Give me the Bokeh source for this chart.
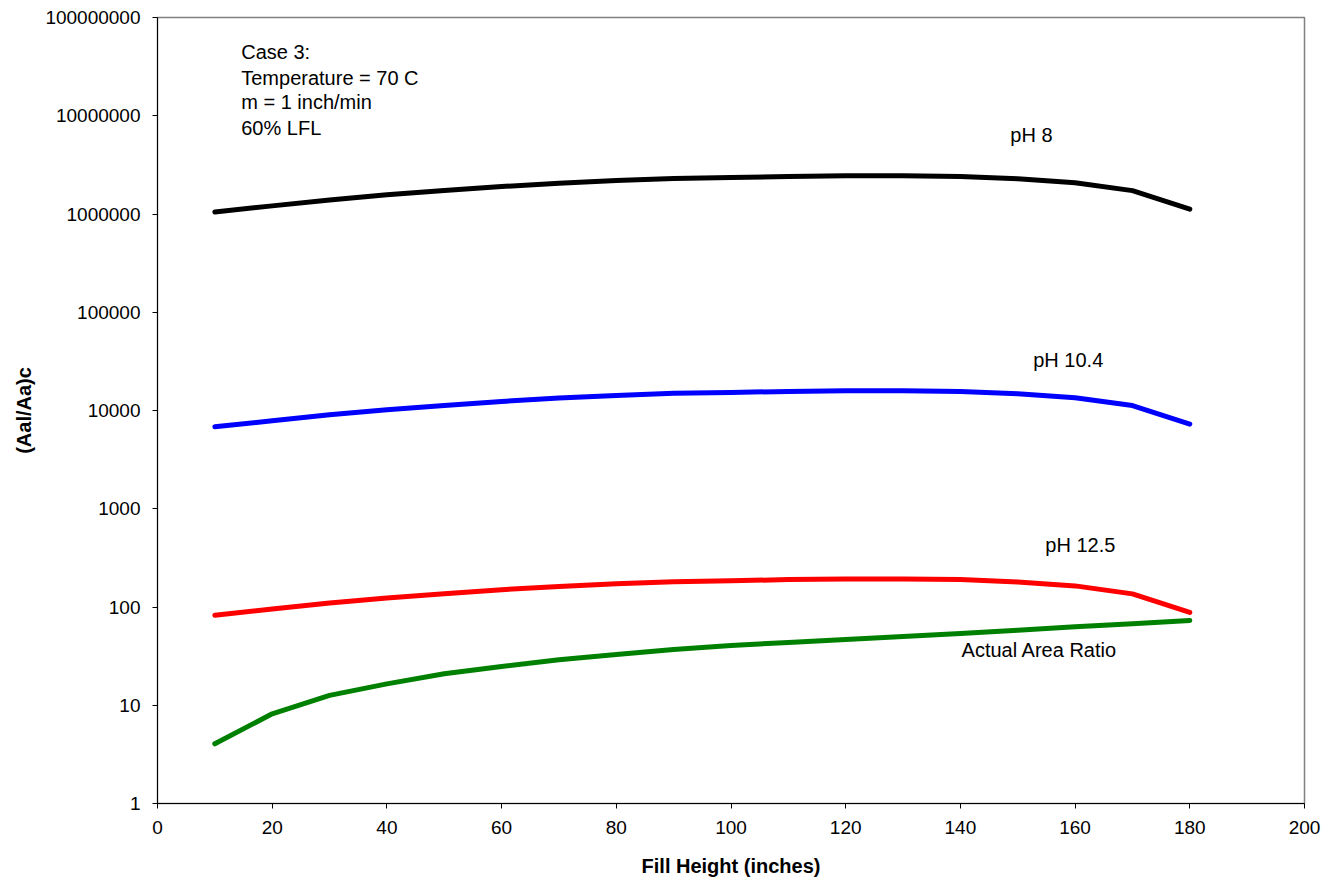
from bokeh.plotting import figure
from bokeh.models import Range1d, FixedTicker, PrintfTickFormatter, Label
from bokeh.embed import file_html
from bokeh.resources import INLINE

fill_height = [10, 20, 30, 40, 50, 60, 70, 80, 90, 100, 110, 120, 130, 140, 150, 160, 170, 180]
ph8 = [1.05e6, 1.21e6, 1.39e6, 1.57e6, 1.73e6, 1.90e6, 2.06e6, 2.19e6, 2.30e6, 2.35e6,
       2.41e6, 2.45e6, 2.45e6, 2.41e6, 2.28e6, 2.08e6, 1.73e6, 1.12e6]
ph104 = [6830, 7870, 9050, 10180, 11260, 12370, 13380, 14220, 14940, 15260,
         15650, 15910, 15910, 15650, 14800, 13510, 11230, 7270]
ph125 = [82.6, 95.4, 109.8, 123.5, 136.5, 150, 162, 172, 181, 185,
         190, 193, 193, 190, 179.5, 164, 136, 88]
actual_area_ratio = [4.05, 8.18, 12.6, 16.5, 20.9, 24.8, 29.0, 32.9, 36.9, 40.6,
                     43.5, 46.7, 50.1, 53.7, 58.0, 62.9, 67.5, 72.9]

x_ticks = [0, 20, 40, 60, 80, 100, 120, 140, 160, 180, 200]
y_ticks = [1, 10, 100, 1000, 10000, 100000, 1000000, 10000000, 100000000]

series_labels = ["pH 8", "pH 10.4", "pH 12.5", "Actual Area Ratio"]
note_lines = ["Case 3:", "Temperature = 70 C", "m = 1 inch/min", "60% LFL"]

FONT = "Liberation Sans"
FS = "19px"
FS_TXT = "20px"

p = figure(width=1326, height=879, y_axis_type="log",
           x_range=Range1d(0, 200), y_range=Range1d(1, 1e8),
           output_backend="svg", toolbar_location=None,
           min_border_left=157, min_border_right=22, min_border_top=17, min_border_bottom=76)

p.xgrid.visible = False
p.ygrid.visible = False
p.outline_line_color = "#808080"
p.outline_line_width = 1.5
p.background_fill_color = "white"
p.border_fill_color = "white"

for ax in (p.xaxis[0], p.yaxis[0]):
    ax.axis_line_color = "black"
    ax.axis_line_width = 1
    ax.major_tick_line_color = "black"
    ax.major_tick_in = 0
    ax.major_tick_out = 5
    ax.minor_tick_in = 0
    ax.minor_tick_out = 0
    ax.major_label_text_font = FONT
    ax.major_label_text_font_size = FS
    ax.major_label_text_color = "black"
    ax.axis_label_text_font = FONT
    ax.axis_label_text_font_size = FS_TXT
    ax.axis_label_text_font_style = "bold"
    ax.axis_label_text_color = "black"

p.xaxis.ticker = FixedTicker(ticks=x_ticks)
p.yaxis.ticker = FixedTicker(ticks=y_ticks, minor_ticks=[])
p.yaxis.formatter = PrintfTickFormatter(format="%d")
p.xaxis.major_label_standoff = 12
p.yaxis.major_label_standoff = 12
p.xaxis.axis_label = "Fill Height (inches)"
p.yaxis.axis_label = "(Aal/Aa)c"
p.xaxis.axis_label_standoff = 18
p.yaxis.axis_label_standoff = 7

lw = 5
p.line(fill_height, ph8, line_color="black", line_width=lw, line_cap="round", line_join="round")
p.line(fill_height, ph104, line_color="#0000FF", line_width=lw, line_cap="round", line_join="round")
p.line(fill_height, ph125, line_color="#FF0000", line_width=lw, line_cap="round", line_join="round")
p.line(fill_height, actual_area_ratio, line_color="#008000", line_width=lw, line_cap="round", line_join="round")

label_pos = [(148.7, 6.3e6), (152.7, 32300), (154.8, 423), (140.2, 36.9)]
for txt, (lx, ly) in zip(series_labels, label_pos):
    p.add_layout(Label(x=lx, y=ly, text=txt, text_font=FONT, text_font_size=FS_TXT,
                       text_baseline="middle", text_align="left", text_color="black"))

note_y = [10 ** 7.644, 10 ** 7.389, 10 ** 7.135, 10 ** 6.880]
for txt, ny in zip(note_lines, note_y):
    p.add_layout(Label(x=14.6, y=ny, text=txt, text_font=FONT, text_font_size=FS_TXT,
                       text_baseline="middle", text_align="left", text_color="black"))

open("out.html", "w").write(file_html(p, INLINE))
